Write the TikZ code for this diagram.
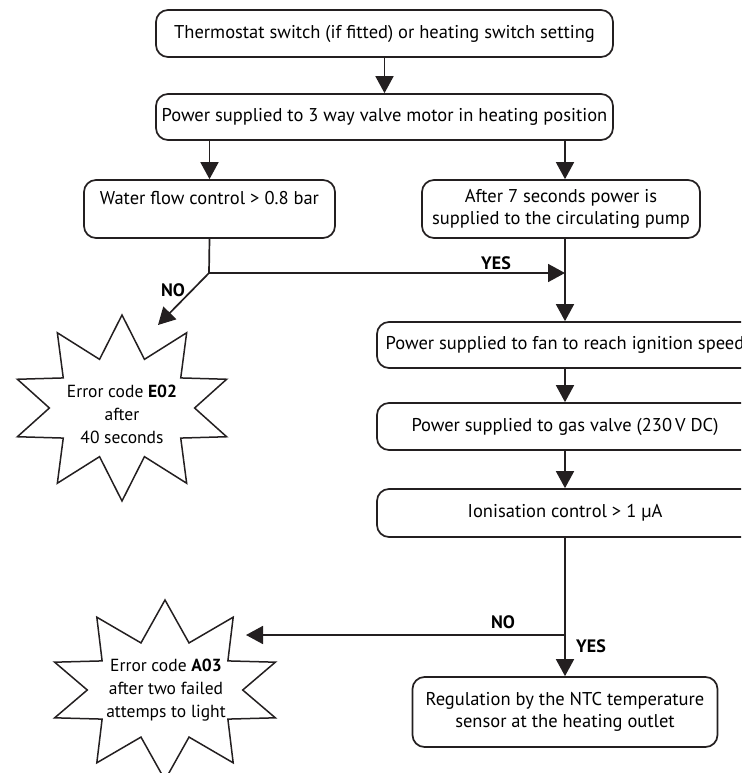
\documentclass[tikz,border=0pt]{standalone}
\usepackage{fontspec}
\setmainfont{PT Sans}
\usepackage{tikz}
\usetikzlibrary{arrows.meta, calc}
\definecolor{inkline}{HTML}{231F20}

\begin{document}
\begin{tikzpicture}[x=1pt, y=-1pt,
  stepbox/.style={draw=inkline, line width=1.7pt, rounded corners=12pt, align=center, inner sep=2pt, font=\fontsize{18.5}{22}\selectfont},
  flow/.style={draw=inkline, line width=1.7pt, -{Triangle[length=17pt, width=18pt]}},
  link/.style={draw=inkline, line width=1.7pt},
  burst/.style={draw=inkline, line width=1.5pt, line join=miter},
  tag/.style={font=\fontsize{18}{20}\selectfont\bfseries, inner sep=0pt},
  bursttext/.style={align=center, inner sep=0pt, font=\fontsize{17.5}{23}\selectfont}
]
  \useasboundingbox (0,0) rectangle (741,773);
  \clip (0,0) rectangle (741,773);

  \node[stepbox, minimum width=457pt, minimum height=47pt] (thermo) at (384.5, 33.5)
    {Thermostat switch (if fitted) or heating switch setting};
  \node[stepbox, minimum width=457pt, minimum height=46pt] (valve) at (384.5, 117)
    {Power supplied to 3 way valve motor in heating position};
  \node[stepbox, minimum width=251pt, minimum height=58pt] (water) at (209.5, 209)
    {Water flow control > 0.8 bar\\~};
  \node[stepbox, minimum width=278pt, minimum height=58pt] (pump) at (561, 209)
    {After 7 seconds power is\\supplied to the circulating pump};
  \node[stepbox, minimum width=376pt, minimum height=46pt] (fan) at (565, 345)
    {Power supplied to fan to reach ignition speed};
  \node[stepbox, minimum width=376pt, minimum height=47pt] (gas) at (565, 426.5)
    {Power supplied to gas valve (230\,V DC)};
  \node[stepbox, minimum width=376pt, minimum height=48pt] (ion) at (565, 513)
    {Ionisation control > 1 µA};
  \node[stepbox, minimum width=305pt, minimum height=70pt] (ntc) at (565, 712)
    {Regulation by the NTC temperature\\sensor at the heating outlet};

  % error bursts
  \node[bursttext] (e02) at (122, 414) {Error code \textbf{E02}\\after\\40 seconds};
  \node[bursttext] (a03) at (166, 690) {Error code \textbf{A03}\\after two failed\\attemps to light};
  \draw[burst, shift={(122,408)}] (90:110 and 93)
    \foreach \k [evaluate=\k as \fx using {ifthenelse(mod(\k,2)==1,0.66,1)},
                 evaluate=\k as \fy using {ifthenelse(mod(\k,2)==1,0.55,1)}] in {1,...,19} {
      -- ({90+18*\k}:{\fx*110} and {\fy*93})
    } -- cycle;
  \draw[burst, shift={(165,690)}] (90:116 and 90)
    \foreach \k [evaluate=\k as \fx using {ifthenelse(mod(\k,2)==1,0.67,1)},
                 evaluate=\k as \fy using {ifthenelse(mod(\k,2)==1,0.55,1)}] in {1,...,19} {
      -- ({90+18*\k}:{\fx*116} and {\fy*90})
    } -- cycle;

  \coordinate (split) at (209, 273);
  \coordinate (join) at (565, 273);
  \coordinate (e02tip) at (158, 325);
  \coordinate (fork) at (565, 635);
  \coordinate (a03tip) at (246, 635);

  \draw[flow] (thermo) -- (valve);
  \draw[flow] (valve.south -| water.north) -- (water.north);
  \draw[flow] (valve.south -| join) -- (pump.north -| join);
  \draw[link] (water.south) -- (split);
  \draw[flow] (split) -- (join);
  \draw[flow] (split) -- (e02tip);
  \draw[flow] (pump.south -| join) -- (fan.north);
  \draw[flow] (fan) -- (gas);
  \draw[flow] (gas) -- (ion);
  \draw[link] (ion.south) -- (fork);
  \draw[flow] (fork) -- (ntc.north -| fork);
  \draw[flow] (fork) -- (a03tip);

  \node[tag] (yes1) at (496, 263) {YES};
  \node[tag] (no1) at (173, 290) {NO};
  \node[tag] (no2) at (503, 622) {NO};
  \node[tag] (yes2) at (591, 646) {YES};
\end{tikzpicture}
\end{document}
